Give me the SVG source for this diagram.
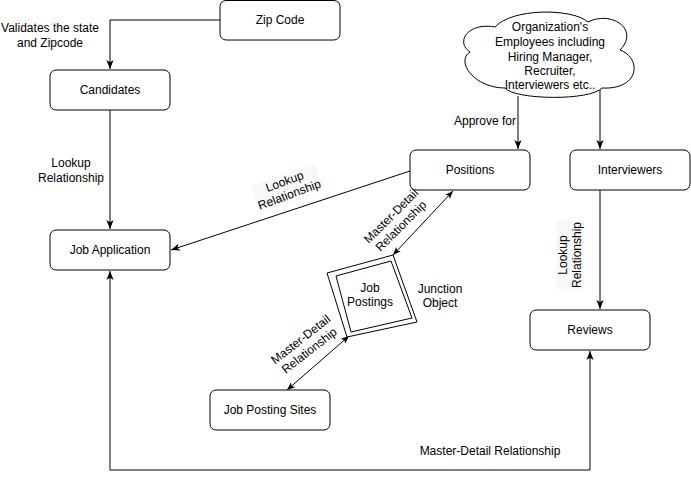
<svg xmlns="http://www.w3.org/2000/svg" width="691" height="479" viewBox="0 0 691 479">
<defs>
<style>
.box{fill:#fff;stroke:#000;stroke-width:1}
.edge{fill:none;stroke:#000;stroke-width:1}
text{font-family:"Liberation Sans",Arial,Helvetica,sans-serif;font-size:12px;fill:#000}
.c{text-anchor:middle}
.lbg{fill:#f8f8f8}
</style>
<marker id="arr" viewBox="0 0 10 8" refX="10" refY="4" markerWidth="9" markerHeight="8" markerUnits="userSpaceOnUse" orient="auto-start-reverse">
<path d="M0,0 L10,4 L0,8 L2.5,4 Z" fill="#000"/>
</marker>
<marker id="arrs" viewBox="0 0 10 8" refX="10" refY="4" markerWidth="8" markerHeight="7" markerUnits="userSpaceOnUse" orient="auto-start-reverse">
<path d="M0,0 L10,4 L0,8 L2.5,4 Z" fill="#000"/>
</marker>
</defs>
<rect width="691" height="479" fill="#fff"/>

<g id="connectors">
<path class="edge" d="M220,20 H110 V69" marker-end="url(#arr)"/>
<path class="edge" d="M110,110 V229" marker-end="url(#arr)"/>
<path class="edge" d="M410,171 L171,250" marker-end="url(#arr)"/>
<path class="edge" d="M518,96 V149" marker-end="url(#arr)"/>
<path class="edge" d="M600,89 V149" marker-end="url(#arr)"/>
<path class="edge" d="M600,190 V309" marker-end="url(#arr)"/>
<path class="edge" d="M590,351 V470 H110 V271" marker-start="url(#arr)" marker-end="url(#arr)"/>
<path class="edge" d="M453,191 L393,255" marker-start="url(#arrs)" marker-end="url(#arrs)"/>
<path class="edge" d="M349,336 L287,390" marker-start="url(#arrs)" marker-end="url(#arrs)"/>
</g>

<g id="labels">
<text class="c" x="50" y="32">Validates the state</text>
<text class="c" x="50" y="47">and Zipcode</text>
<text class="c" x="71" y="167">Lookup</text>
<text class="c" x="71" y="182">Relationship</text>
<g transform="translate(287,188) rotate(-20)">
<rect class="lbg" x="-34" y="-14" width="68" height="28"/>
<text class="c" x="0" y="-3">Lookup</text>
<text class="c" x="0" y="11">Relationship</text>
</g>
<text x="454" y="125">Approve for</text>
<g transform="translate(396,221) rotate(-45)">
<text class="c" x="0" y="-3">Master-Detail</text>
<text class="c" x="0" y="11">Relationship</text>
</g>
<g transform="translate(305,345) rotate(-38)">
<text class="c" x="0" y="-3">Master-Detail</text>
<text class="c" x="0" y="11">Relationship</text>
</g>
<text class="c" x="440" y="293">Junction</text>
<text class="c" x="440" y="307">Object</text>
<g transform="translate(570,255) rotate(-90)">
<rect class="lbg" x="-34" y="-14" width="68" height="28"/>
<text class="c" x="0" y="-3">Lookup</text>
<text class="c" x="0" y="11">Relationship</text>
</g>
<text class="c" x="490" y="455">Master-Detail Relationship</text>
</g>

<g id="zip-code">
<rect class="box" x="220" y="0.5" width="120" height="39.5" rx="6"/>
<text class="c" x="280" y="24">Zip Code</text>
</g>
<g id="candidates">
<rect class="box" x="50" y="70" width="120" height="40" rx="6"/>
<text class="c" x="110" y="94">Candidates</text>
</g>
<g id="job-application">
<rect class="box" x="50" y="230" width="120" height="40" rx="6"/>
<text class="c" x="110" y="254">Job Application</text>
</g>
<g id="positions">
<rect class="box" x="410" y="150" width="120" height="40" rx="6"/>
<text class="c" x="470" y="174">Positions</text>
</g>
<g id="interviewers">
<rect class="box" x="570" y="150" width="120" height="40" rx="6"/>
<text class="c" x="630" y="174">Interviewers</text>
</g>
<g id="reviews">
<rect class="box" x="530" y="310" width="120" height="40" rx="6"/>
<text class="c" x="590" y="334">Reviews</text>
</g>
<g id="job-posting-sites">
<rect class="box" x="210" y="390" width="120" height="40" rx="6"/>
<text class="c" x="270" y="414">Job Posting Sites</text>
</g>
<g id="job-postings">
<polygon class="box" points="327,273 393,255 417,322 347,337"/>
<polygon class="box" points="336,276 391,261 412,318 351,332"/>
<text class="c" x="370" y="292">Job</text>
<text class="c" x="370" y="306">Postings</text>
</g>
<g id="organization-employees">
<path class="box" d="M495,27 C468,22 455,42 470,52 C455,62 475,88 505,88 C515,100 590,101 602,88 C640,90 642,58 620,50 C640,30 612,10 588,22 C572,8 512,8 495,27 Z"/>
<text class="c" x="550" y="31">Organization's</text>
<text class="c" x="550" y="46">Employees including</text>
<text class="c" x="550" y="61">Hiring Manager,</text>
<text class="c" x="550" y="75">Recruiter,</text>
<text class="c" x="550" y="89">Interviewers etc..</text>
</g>
</svg>
